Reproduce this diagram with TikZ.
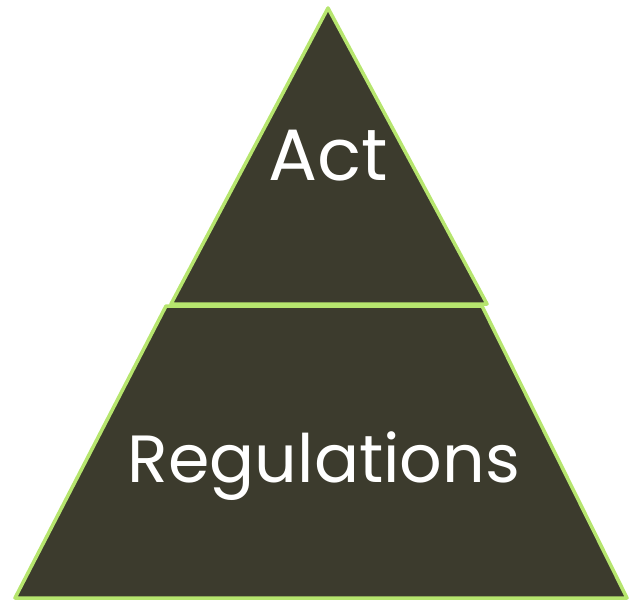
\documentclass[tikz,border=0pt]{standalone}
\usepackage{fontspec}
\setmainfont{Poppins}
\definecolor{layerfill}{HTML}{3C3B2D}
\definecolor{layeredge}{HTML}{B6E56E}
\tikzset{
  layer/.style={fill=layerfill, draw=layeredge, line width=3.5bp, line join=round},
  layertext/.style={text=white, anchor=base, inner sep=0pt}
}

\begin{document}
\begin{tikzpicture}[x=1bp, y=-1bp]
			%%%%% START %%%%%
			\useasboundingbox (0, 0) rectangle (629, 601);
			
			% top of the pyramid
			\draw[layer] (328, 8) -- (487, 304) -- (171, 304) -- cycle;
			\node[layertext, font=\fontsize{73}{80}\selectfont] (act) at (328, 181) {Act};
			
			% lower band
			\draw[layer] (166, 306) -- (482, 306) -- (627, 598) -- (15, 598) -- cycle;
			\node[layertext, font=\fontsize{67}{73}\selectfont] (regulations) at (324, 482) {Regulations};
			
			%%%%% END %%%%%
\end{tikzpicture}
\end{document}
